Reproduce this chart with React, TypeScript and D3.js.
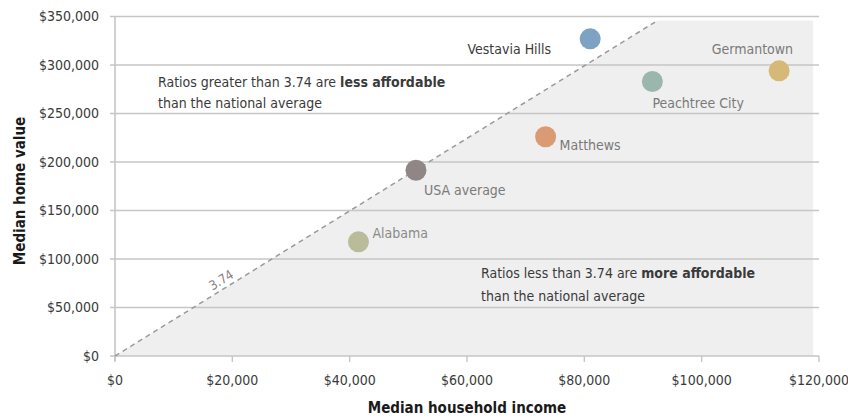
import React from "react";
import * as d3 from "d3";

const places = ["Vestavia Hills", "Germantown", "Peachtree City", "Matthews", "USA average", "Alabama"];
const incomes = [81000, 113200, 91600, 73400, 51300, 41500];
const homeValues = [327000, 294000, 283000, 226000, 191500, 117700];
const colors = ["#7ea2c3", "#d6b877", "#9bb7ad", "#da9b74", "#918686", "#babb9b"];
const labelColors = ["#3a3a3a", "#7a7a7a", "#7a7a7a", "#7a7a7a", "#7a7a7a", "#8a8a8a"];
// label anchor side: "end" => left of point, "start" => right
const labelAnchor = ["end", "end", "start", "start", "start", "start"];
const labelDx = [-39, 14, 0, 14, 8, 14];
const labelDy = [10, -22, 22, 8, 20, -9];

const xTicks = [0, 20000, 40000, 60000, 80000, 100000, 120000];
const yTicks = [0, 50000, 100000, 150000, 200000, 250000, 300000, 350000];
const ratio = 3.74;

const W = 848;
const H = 419;
const FONT = "'Liberation Sans Narrow', 'DejaVu Sans Condensed', 'Roboto Condensed', sans-serif";

export default function App() {
  const x = d3.scaleLinear().domain([0, 120000]).range([115, 819]);
  const y = d3.scaleLinear().domain([0, 350000]).range([356, 16.5]);
  const fmt = (v: number) => "$" + d3.format(",")(v);

  const yMax = 350000;
  const shadeTop = 346000;
  const xAtTop = yMax / ratio;
  const shadeRight = 119000;
  const shade = [
    [0, 0],
    [shadeTop / ratio, shadeTop],
    [shadeRight, shadeTop],
    [shadeRight, 0],
  ];
  const shadePath = d3.line<number[]>().x((d) => x(d[0])).y((d) => y(d[1]))(shade) + "Z";

  const angle = (Math.atan2(y(0) - y(ratio * 10000), x(10000) - x(0)) * 180) / Math.PI;
  const lblX = 18500;
  const lblPx = x(lblX);
  const lblPy = y(lblX * ratio);

  return (
    <svg width={W} height={H} style={{ position: "absolute", left: 0, top: 0 }} fontFamily={FONT}>
      <rect width={W} height={H} fill="#fff" />
      <path d={shadePath} fill="#efefef" />
      {yTicks.map((t) => (
        <line key={t} x1={110} x2={819} y1={y(t)} y2={y(t)} stroke="#c6c6c6" strokeWidth={1.6} />
      ))}
      <line x1={x(0)} x2={x(0)} y1={y(350000)} y2={y(0) + 5} stroke="#c6c6c6" strokeWidth={1.6} />
      {xTicks.map((t) => (
        <line key={t} x1={x(t)} x2={x(t)} y1={y(0)} y2={y(0) + 6} stroke="#c6c6c6" strokeWidth={1.4} />
      ))}
      <line
        x1={x(0)}
        y1={y(0)}
        x2={x(shadeTop / ratio)}
        y2={y(shadeTop)}
        stroke="#9a9a9a"
        strokeWidth={1.5}
        strokeDasharray="5,4"
      />
      <text
        x={lblPx}
        y={lblPy - 5}
        transform={`rotate(${-angle},${lblPx},${lblPy - 5})`}
        textAnchor="middle"
        fontSize={13}
        fill="#8a7f7f"
      >
        3.74
      </text>
      {yTicks.map((t) => (
        <text key={t} x={99} y={y(t)} dy="0.35em" textAnchor="end" fontSize={14} fill="#3a3a3a">
          {fmt(t)}
        </text>
      ))}
      {xTicks.map((t) => (
        <text key={t} x={x(t)} y={380} dy="0.35em" textAnchor="middle" fontSize={14} fill="#3a3a3a">
          {fmt(t)}
        </text>
      ))}
      <text x={467} y={408} dy="0.35em" textAnchor="middle" fontSize={15} fontWeight="bold" fill="#1a1a1a">
        Median household income
      </text>
      <text
        transform="translate(20,191) rotate(-90)"
        dy="0.35em"
        textAnchor="middle"
        fontSize={15}
        fontWeight="bold"
        fill="#1a1a1a"
      >
        Median home value
      </text>
      <text x={158} y={82} dy="0.35em" fontSize={14} fill="#3a3a3a">
        Ratios greater than 3.74 are <tspan fontWeight="bold">less affordable</tspan>
      </text>
      <text x={158} y={103} dy="0.35em" fontSize={14} fill="#3a3a3a">
        than the national average
      </text>
      <text x={481} y={273} dy="0.35em" fontSize={14} fill="#3a3a3a">
        Ratios less than 3.74 are <tspan fontWeight="bold">more affordable</tspan>
      </text>
      <text x={481} y={296} dy="0.35em" fontSize={14} fill="#3a3a3a">
        than the national average
      </text>
      {places.map((p, i) => (
        <g key={p}>
          <circle cx={x(incomes[i])} cy={y(homeValues[i])} r={10.5} fill={colors[i]} />
          <text
            x={x(incomes[i]) + labelDx[i]}
            y={y(homeValues[i]) + labelDy[i]}
            dy="0.35em"
            textAnchor={labelAnchor[i] as any}
            fontSize={14}
            fill={labelColors[i]}
          >
            {p}
          </text>
        </g>
      ))}
    </svg>
  );
}
